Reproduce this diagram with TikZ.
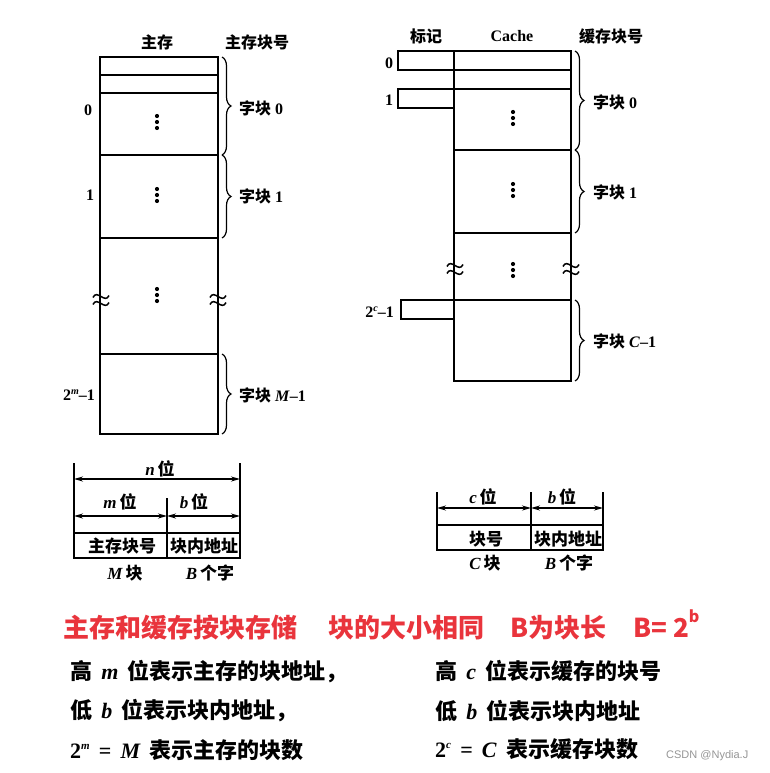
\documentclass[tikz,border=0pt]{standalone}
\usepackage{fontspec}
\setmainfont{Liberation Serif}
\newfontfamily\cjk{Noto Sans CJK SC}
\newfontfamily\lsans{Liberation Sans}
\usetikzlibrary{decorations.pathreplacing,arrows.meta}
\definecolor{redtxt}{RGB}{233,52,60}
\definecolor{wmark}{RGB}{150,150,150}
\newcommand\zh[1]{{\cjk\bfseries #1}}
\newcommand\bi[1]{\textbf{\textit{#1}}}
\newcommand\dotsat[2]{\foreach \dd in {-6,0,6}{\fill (#1,#2+\dd) circle (2.1pt);}}
\newcommand\wavyat[2]{\foreach \ww in {-3.5,3.5}{\draw[line width=1.5pt] (#1-8,#2+\ww+1) .. controls (#1-4,#2+\ww-8) and (#1+4,#2+\ww+8) .. (#1+8,#2+\ww-1);}}
\begin{document}
\begin{tikzpicture}[x=1pt,y=-1pt,
  mem/.style={line width=2pt},
  brc/.style={decorate,decoration={brace,amplitude=9pt},line width=1.2pt},
  lbl/.style={font=\fontsize{16}{16}\selectfont,inner sep=0pt},
  fmt/.style={font=\fontsize{17}{17}\selectfont,inner sep=0pt},
  dimarrow/.style={{Stealth[length=9pt,width=5pt]}-{Stealth[length=9pt,width=5pt]},line width=1.3pt},
  bigtxt/.style={font=\fontsize{22}{22}\selectfont,inner sep=0pt,anchor=base west},
  redline/.style={font=\fontsize{26}{26}\cjk\bfseries,text=redtxt,inner sep=0pt,anchor=base west}]
\useasboundingbox[fill=white] (0,0) rectangle (769,773);

% ---------- main memory ----------
\node[lbl] (hm) at (157,42) {\zh{主存}};
\node[lbl] (hmb) at (257,42) {\zh{主存块号}};
\coordinate (mTL) at (100,57);
\coordinate (mBR) at (218,434);
\draw[mem] (mTL) rectangle (mBR);
\foreach \yy in {75,93,155,238,354}{\draw[mem] (100,\yy) -- (218,\yy);}
\dotsat{157}{122}
\dotsat{157}{195}
\dotsat{157}{295}
\wavyat{101}{300}
\wavyat{218}{300}
\draw[brc] (222,57) -- (222,155);
\draw[brc] (222,155) -- (222,238);
\draw[brc] (222,354) -- (222,434);
\node[lbl,anchor=west] (mb0) at (239,108) {\zh{字块} \textbf{0}};
\node[lbl,anchor=west] (mb1) at (239,196) {\zh{字块} \textbf{1}};
\node[lbl,anchor=west] (mbM) at (239,395) {\zh{字块} \bi{M}\textbf{–1}};
\node[lbl] (mr0) at (88,110) {\textbf{0}};
\node[lbl] (mr1) at (90,195) {\textbf{1}};
\node[lbl,anchor=base east] (mrM) at (95,400.5) {\textbf{2}\raisebox{0.8ex}{\fontsize{10}{10}\selectfont\bi{m}}\textbf{–1}};

% ---------- cache ----------
\node[lbl] (ht) at (426,36) {\zh{标记}};
\node[lbl] (hc) at (512,36) {\textbf{Cache}};
\node[lbl] (hcb) at (611,36) {\zh{缓存块号}};
\coordinate (cTL) at (454,51);
\coordinate (cBR) at (571,381);
\draw[mem] (cTL) rectangle (cBR);
\foreach \yy in {70,89,150,233,300}{\draw[mem] (454,\yy) -- (571,\yy);}
\draw[mem] (454,51) -- (398,51) -- (398,70) -- (454,70);
\draw[mem] (454,89) -- (398,89) -- (398,108) -- (454,108);
\draw[mem] (454,300) -- (401,300) -- (401,319) -- (454,319);
\dotsat{513}{118}
\dotsat{513}{190}
\dotsat{513}{270}
\wavyat{455}{269}
\wavyat{571}{269}
\draw[brc] (575,51) -- (575,150);
\draw[brc] (575,150) -- (575,233);
\draw[brc] (575,300) -- (575,381);
\node[lbl,anchor=west] (cb0) at (593,102) {\zh{字块} \textbf{0}};
\node[lbl,anchor=west] (cb1) at (593,192) {\zh{字块} \textbf{1}};
\node[lbl,anchor=west] (cbC) at (593,341) {\zh{字块} \bi{C}\textbf{–1}};
\node[lbl] (cr0) at (389,63) {\textbf{0}};
\node[lbl] (cr1) at (389,100) {\textbf{1}};
\node[lbl,anchor=base east] (crC) at (394,317.5) {\textbf{2}\raisebox{0.8ex}{\fontsize{10}{10}\selectfont\bi{c}}\textbf{–1}};

% ---------- main memory address format ----------
\coordinate (aL) at (74,479);
\coordinate (aR) at (240,479);
\coordinate (aML) at (74,516);
\coordinate (aMM) at (167,516);
\coordinate (aMR) at (240,516);
\draw[line width=1.6pt] (74,463) -- (74,558) -- (240,558) -- (240,463);
\draw[line width=1.6pt] (167,498) -- (167,558);
\draw[line width=1.6pt] (74,533) -- (240,533);
\draw[dimarrow] (aL) -- (aR);
\draw[dimarrow] (aML) -- (aMM);
\draw[dimarrow] (aMM) -- (aMR);
\node[fmt] (fn) at (160,469) {\bi{n}\,\zh{位}};
\node[fmt] (fm) at (120,502) {\bi{m}\,\zh{位}};
\node[fmt] (fb) at (194,502) {\bi{b}\,\zh{位}};
\node[fmt] (fmb) at (122,546) {\zh{主存块号}};
\node[fmt] (fba) at (204,546) {\zh{块内地址}};
\node[fmt] (fM) at (125,573) {\bi{M}\,\zh{块}};
\node[fmt] (fB) at (210,573) {\bi{B}\,\zh{个字}};

% ---------- cache address format ----------
\coordinate (bL) at (437,508);
\coordinate (bM) at (531,508);
\coordinate (bR) at (603,508);
\draw[line width=1.6pt] (437,492) -- (437,550) -- (603,550) -- (603,492);
\draw[line width=1.6pt] (531,492) -- (531,550);
\draw[line width=1.6pt] (437,525) -- (603,525);
\draw[dimarrow] (bL) -- (bM);
\draw[dimarrow] (bM) -- (bR);
\node[fmt] (gc) at (483,497) {\bi{c}\,\zh{位}};
\node[fmt] (gb) at (562,497) {\bi{b}\,\zh{位}};
\node[fmt] (gk) at (486,539) {\zh{块号}};
\node[fmt] (gba) at (568,539) {\zh{块内地址}};
\node[fmt] (gC) at (485,563) {\bi{C}\,\zh{块}};
\node[fmt] (gB) at (569,563) {\bi{B}\,\zh{个字}};

% ---------- red summary line ----------
\node[redline] (r1) at (63,637) {主存和缓存按块存储};
\node[redline] (r2) at (328,637) {块的大小相同};
\node[redline] (r3) at (510,637) {B为块长};
\node[redline] (r4) at (633,637) {B= 2\raisebox{0.55em}{\fontsize{16}{16}\selectfont b}};

% ---------- explanations ----------
\node[bigtxt] (l1) at (70,679) {\zh{高}\, \bi{m}\, \zh{位表示主存的块地址，}};
\node[bigtxt] (l2) at (70,718) {\zh{低}\, \bi{b}\, \zh{位表示块内地址，}};
\node[bigtxt] (l3) at (70,758) {\textbf{2}\raisebox{0.8ex}{\fontsize{11}{11}\selectfont\bi{m}}\, \textbf{=}\, \bi{M}\, \zh{表示主存的块数}};
\node[bigtxt] (r5) at (435,679) {\zh{高}\, \bi{c}\, \zh{位表示缓存的块号}};
\node[bigtxt] (r6) at (435,719) {\zh{低}\, \bi{b}\, \zh{位表示块内地址}};
\node[bigtxt] (r7) at (435,757) {\textbf{2}\raisebox{0.8ex}{\fontsize{11}{11}\selectfont\bi{c}}\, \textbf{=}\, \bi{C}\, \zh{表示缓存块数}};
\node[font=\fontsize{11}{11}\lsans,text=wmark,inner sep=0pt,anchor=west] (wm) at (666,756) {CSDN @Nydia.J};
\end{tikzpicture}
\end{document}
